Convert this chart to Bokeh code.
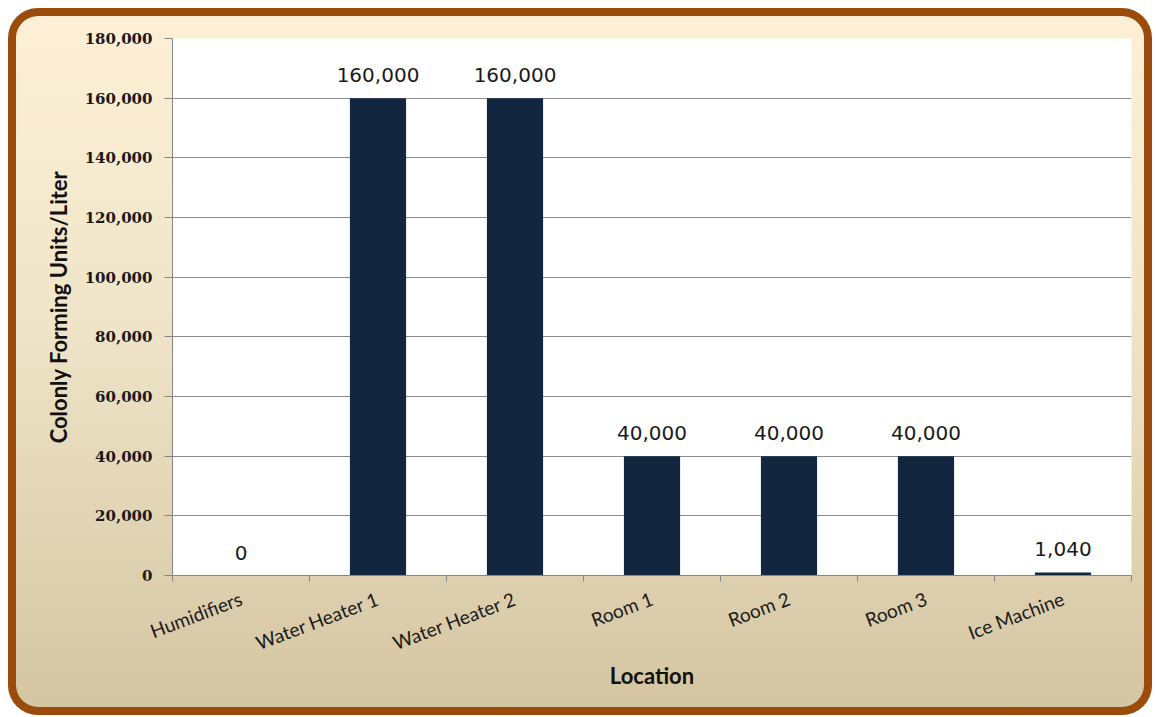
from bokeh.plotting import figure
from bokeh.models import ColumnDataSource, FixedTicker, NumeralTickFormatter, Range1d
from bokeh.core.properties import value
from bokeh.embed import file_html
from bokeh.resources import INLINE

categories = ["Humidifiers", "Water Heater 1", "Water Heater 2", "Room 1", "Room 2", "Room 3", "Ice Machine"]
cfu_per_liter = [0, 160000, 160000, 40000, 40000, 40000, 1040]
y_ticks = [0, 20000, 40000, 60000, 80000, 100000, 120000, 140000, 160000, 180000]

xs = [i + 0.5 for i in range(len(categories))]
labels = [f"{v:,}" for v in cfu_per_liter]
src = ColumnDataSource(dict(x=xs, top=cfu_per_liter, label=labels))

p = figure(width=1144, height=707, output_backend="svg", toolbar_location=None,
           x_range=Range1d(0, len(categories)), y_range=Range1d(0, 180000),
           min_border_left=164, min_border_right=21, min_border_top=30, min_border_bottom=140)

p.styles = {
    "transform": "translate(8px, 8px)",
    "background": "linear-gradient(to bottom, #fdf0d6 0%, #efe4c8 45%, #d4c5a1 100%)",
    "border-radius": "30px",
    "box-shadow": "inset 0 0 0 8px #9b4b0b",
}
p.border_fill_color = None
p.background_fill_color = "white"
p.outline_line_color = None

p.vbar(x="x", top="top", width=0.41, source=src, fill_color="#13263f", line_color=None)
p.text(x="x", y="top", text="label", source=src, text_align="center", text_baseline="alphabetic",
       y_offset=-23, text_font=value("DejaVu Sans"), text_font_size="20px", text_color="#1a1a1a")

# x axis
xt = FixedTicker(ticks=xs, minor_ticks=list(range(len(categories) + 1)))
p.xaxis.ticker = xt
p.xaxis.major_label_overrides = {x: c for x, c in zip(xs, categories)}
p.xaxis.major_tick_out = 0
p.xaxis.major_tick_in = 0
p.xaxis.minor_tick_out = 6
p.xaxis.minor_tick_in = 0
p.xaxis.minor_tick_line_color = "#868686"
p.xaxis.axis_line_color = "#868686"
p.xaxis.major_label_orientation = 0.36
p.xaxis.major_label_text_font = "Lato"
p.xaxis.major_label_text_font_size = "19px"
p.xaxis.major_label_text_color = "#1a1a1a"
p.xaxis.major_label_standoff = 16
p.xaxis.axis_label = "Location"
p.xaxis.axis_label_text_font = "Lato"
p.xaxis.axis_label_text_font_style = "bold"
p.xaxis.axis_label_text_font_size = "22px"
p.xaxis.axis_label_text_color = "#111111"
p.xaxis.axis_label_standoff = -6
p.xgrid.visible = False

# y axis
p.yaxis.ticker = FixedTicker(ticks=y_ticks)
p.yaxis.formatter = NumeralTickFormatter(format="0,0")
p.yaxis.major_tick_out = 8
p.yaxis.major_tick_in = 0
p.yaxis.minor_tick_line_color = None
p.yaxis.major_tick_line_color = "#868686"
p.yaxis.axis_line_color = "#868686"
p.yaxis.major_label_text_font = "DejaVu Serif"
p.yaxis.major_label_text_font_style = "bold"
p.yaxis.major_label_text_font_size = "15px"
p.yaxis.major_label_text_color = "#1a1a1a"
p.yaxis.major_label_standoff = 12
p.yaxis.axis_label = "Colonly Forming Units/Liter"
p.yaxis.axis_label_text_font = "Lato"
p.yaxis.axis_label_text_font_style = "bold"
p.yaxis.axis_label_text_font_size = "22px"
p.yaxis.axis_label_text_color = "#111111"
p.yaxis.axis_label_standoff = 10
p.ygrid.grid_line_color = "#8c8c8c"
p.ygrid.grid_line_width = 1

open("out.html", "w").write(file_html(p, INLINE))
